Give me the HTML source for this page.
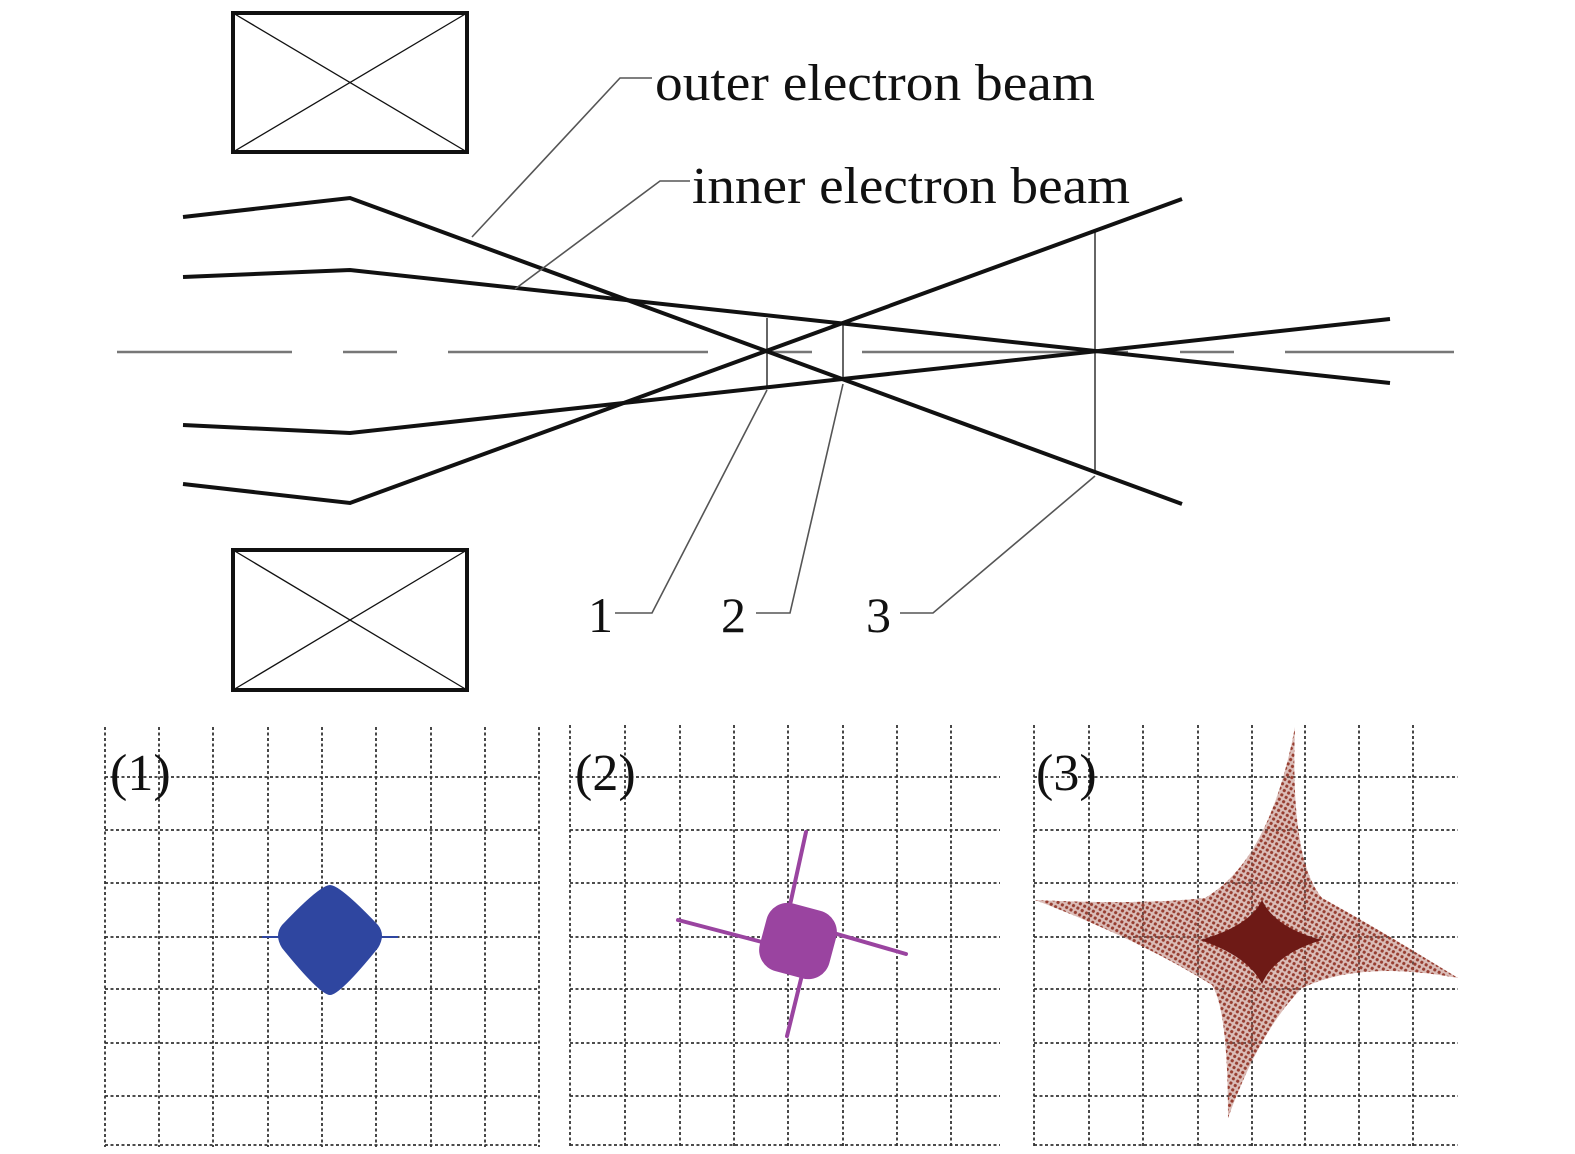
<!DOCTYPE html>
<html><head><meta charset="utf-8"><style>html,body{margin:0;padding:0;background:#fff}svg{display:block}</style></head>
<body>
<svg width="1575" height="1154" viewBox="0 0 1575 1154" xmlns="http://www.w3.org/2000/svg">
<defs>
<pattern id="dots" width="5" height="5" patternUnits="userSpaceOnUse" patternTransform="rotate(30)">
<circle cx="2.5" cy="2.5" r="1.6" fill="#8e2c1e"/>
</pattern>
</defs>
<!-- coils -->
<g fill="none" stroke="#111">
<rect x="233" y="13" width="234" height="139" stroke-width="4"/>
<line x1="233" y1="13" x2="467" y2="152" stroke-width="1.3"/>
<line x1="467" y1="13" x2="233" y2="152" stroke-width="1.3"/>
<rect x="233" y="550" width="234" height="140" stroke-width="4"/>
<line x1="233" y1="550" x2="467" y2="690" stroke-width="1.3"/>
<line x1="467" y1="550" x2="233" y2="690" stroke-width="1.3"/>
</g>
<!-- axis -->
<g stroke="#777" stroke-width="2.5">
<line x1="117" y1="352" x2="292" y2="352"/>
<line x1="343" y1="352" x2="397" y2="352"/>
<line x1="448" y1="352" x2="708" y2="352"/>
<line x1="760" y1="352" x2="812" y2="352"/>
<line x1="862" y1="352" x2="1128" y2="352"/>
<line x1="1180" y1="352" x2="1234" y2="352"/>
<line x1="1285" y1="352" x2="1454" y2="352"/>
</g>
<!-- verticals -->
<g stroke="#555" stroke-width="1.8">
<line x1="767" y1="318" x2="767" y2="388"/>
<line x1="843" y1="323" x2="843" y2="381"/>
<line x1="1095" y1="231" x2="1095" y2="473"/>
</g>
<!-- beams -->
<g fill="none" stroke="#111" stroke-width="4" stroke-linejoin="miter">
<polyline points="183,217 350,198 1182,504"/>
<polyline points="183,484 350,503 1182,199"/>
<polyline points="183,277 350,270 1390,383"/>
<polyline points="183,425 350,433 1390,319"/>
</g>
<!-- leaders -->
<g fill="none" stroke="#555" stroke-width="1.6">
<polyline points="472,237 620,78 652,78"/>
<polyline points="515,289 660,181 690,181"/>
<polyline points="767,390 652,613 615,613"/>
<polyline points="843,384 790,613 756,613"/>
<polyline points="1095,476 933,613 900,613"/>
</g>
<g font-family="'Liberation Serif', serif" fill="#111" font-size="52">
<text x="655" y="100" textLength="440" lengthAdjust="spacingAndGlyphs">outer electron beam</text>
<text x="692" y="203" textLength="438" lengthAdjust="spacingAndGlyphs">inner electron beam</text>
<text x="588" y="632" font-size="50">1</text>
<text x="721" y="632" font-size="50">2</text>
<text x="866" y="632" font-size="50">3</text>
</g>
<!-- grids -->
<g stroke="#333" stroke-width="1.8" stroke-dasharray="3,2.5" fill="none">
<path d="M105 727V1147 M159 727V1147 M213 727V1147 M268 727V1147 M322 727V1147 M376 727V1147 M431 727V1147 M485 727V1147 M539 727V1147"/>
<path d="M105 777H539 M105 830H539 M105 883H539 M105 937H539 M105 989H539 M105 1043H539 M105 1096H539 M105 1145H539"/>
<path d="M570 725V1147 M625 725V1147 M680 725V1147 M734 725V1147 M788 725V1147 M843 725V1147 M897 725V1147 M951 725V1147"/>
<path d="M570 777H1000 M570 830H1000 M570 883H1000 M570 937H1000 M570 989H1000 M570 1043H1000 M570 1096H1000 M570 1145H1000"/>
<path d="M1034 725V1147 M1089 725V1147 M1143 725V1147 M1198 725V1147 M1252 725V1147 M1305 725V1147 M1359 725V1147 M1413 725V1147"/>
<path d="M1034 777H1458 M1034 830H1458 M1034 883H1458 M1034 937H1458 M1034 989H1458 M1034 1043H1458 M1034 1096H1458 M1034 1145H1458"/>
</g>
<!-- blob 1 -->
<path d="M330 885 Q340 885 378 925 Q386 935 378 948 Q340 995 330 995 Q320 995 282 948 Q274 935 282 925 Q320 885 330 885Z" fill="#2f46a0"/>
<line x1="262" y1="937" x2="398" y2="937" stroke="#2f46a0" stroke-width="2"/>
<!-- blob 2 -->
<g stroke="#9a44a0" stroke-width="4" stroke-linecap="round">
<line x1="790" y1="905" x2="806" y2="832"/>
<line x1="802" y1="975" x2="787" y2="1036"/>
<line x1="762" y1="942" x2="678" y2="920"/>
<line x1="830" y1="932" x2="906" y2="954"/>
</g>
<rect x="762" y="906" width="72" height="70" rx="22" fill="#9a44a0" transform="rotate(15 798 941)"/>
<!-- blob 3 -->
<path id="star" d="M1295 727 Q1290 860 1322 898 Q1380 930 1458 978 Q1360 960 1302 988 Q1260 1030 1228 1118 Q1228 1010 1212 985 Q1140 940 1035 900 Q1140 905 1205 898 Q1270 860 1295 727Z" fill="url(#dots)"/>
<path d="M1295 727 Q1290 860 1322 898 Q1380 930 1458 978 Q1360 960 1302 988 Q1260 1030 1228 1118 Q1228 1010 1212 985 Q1140 940 1035 900 Q1140 905 1205 898 Q1270 860 1295 727Z" fill="#a65a4e" opacity="0.4"/>
<path d="M1262 900 Q1275 928 1322 940 Q1275 954 1262 984 Q1248 956 1200 940 Q1250 926 1262 900Z" fill="#6e1a16"/>
<g font-family="'Liberation Serif', serif" fill="#111" font-size="52">
<text x="110" y="790">(1)</text>
<text x="575" y="790">(2)</text>
<text x="1036" y="790">(3)</text>
</g>
</svg>
</body></html>
